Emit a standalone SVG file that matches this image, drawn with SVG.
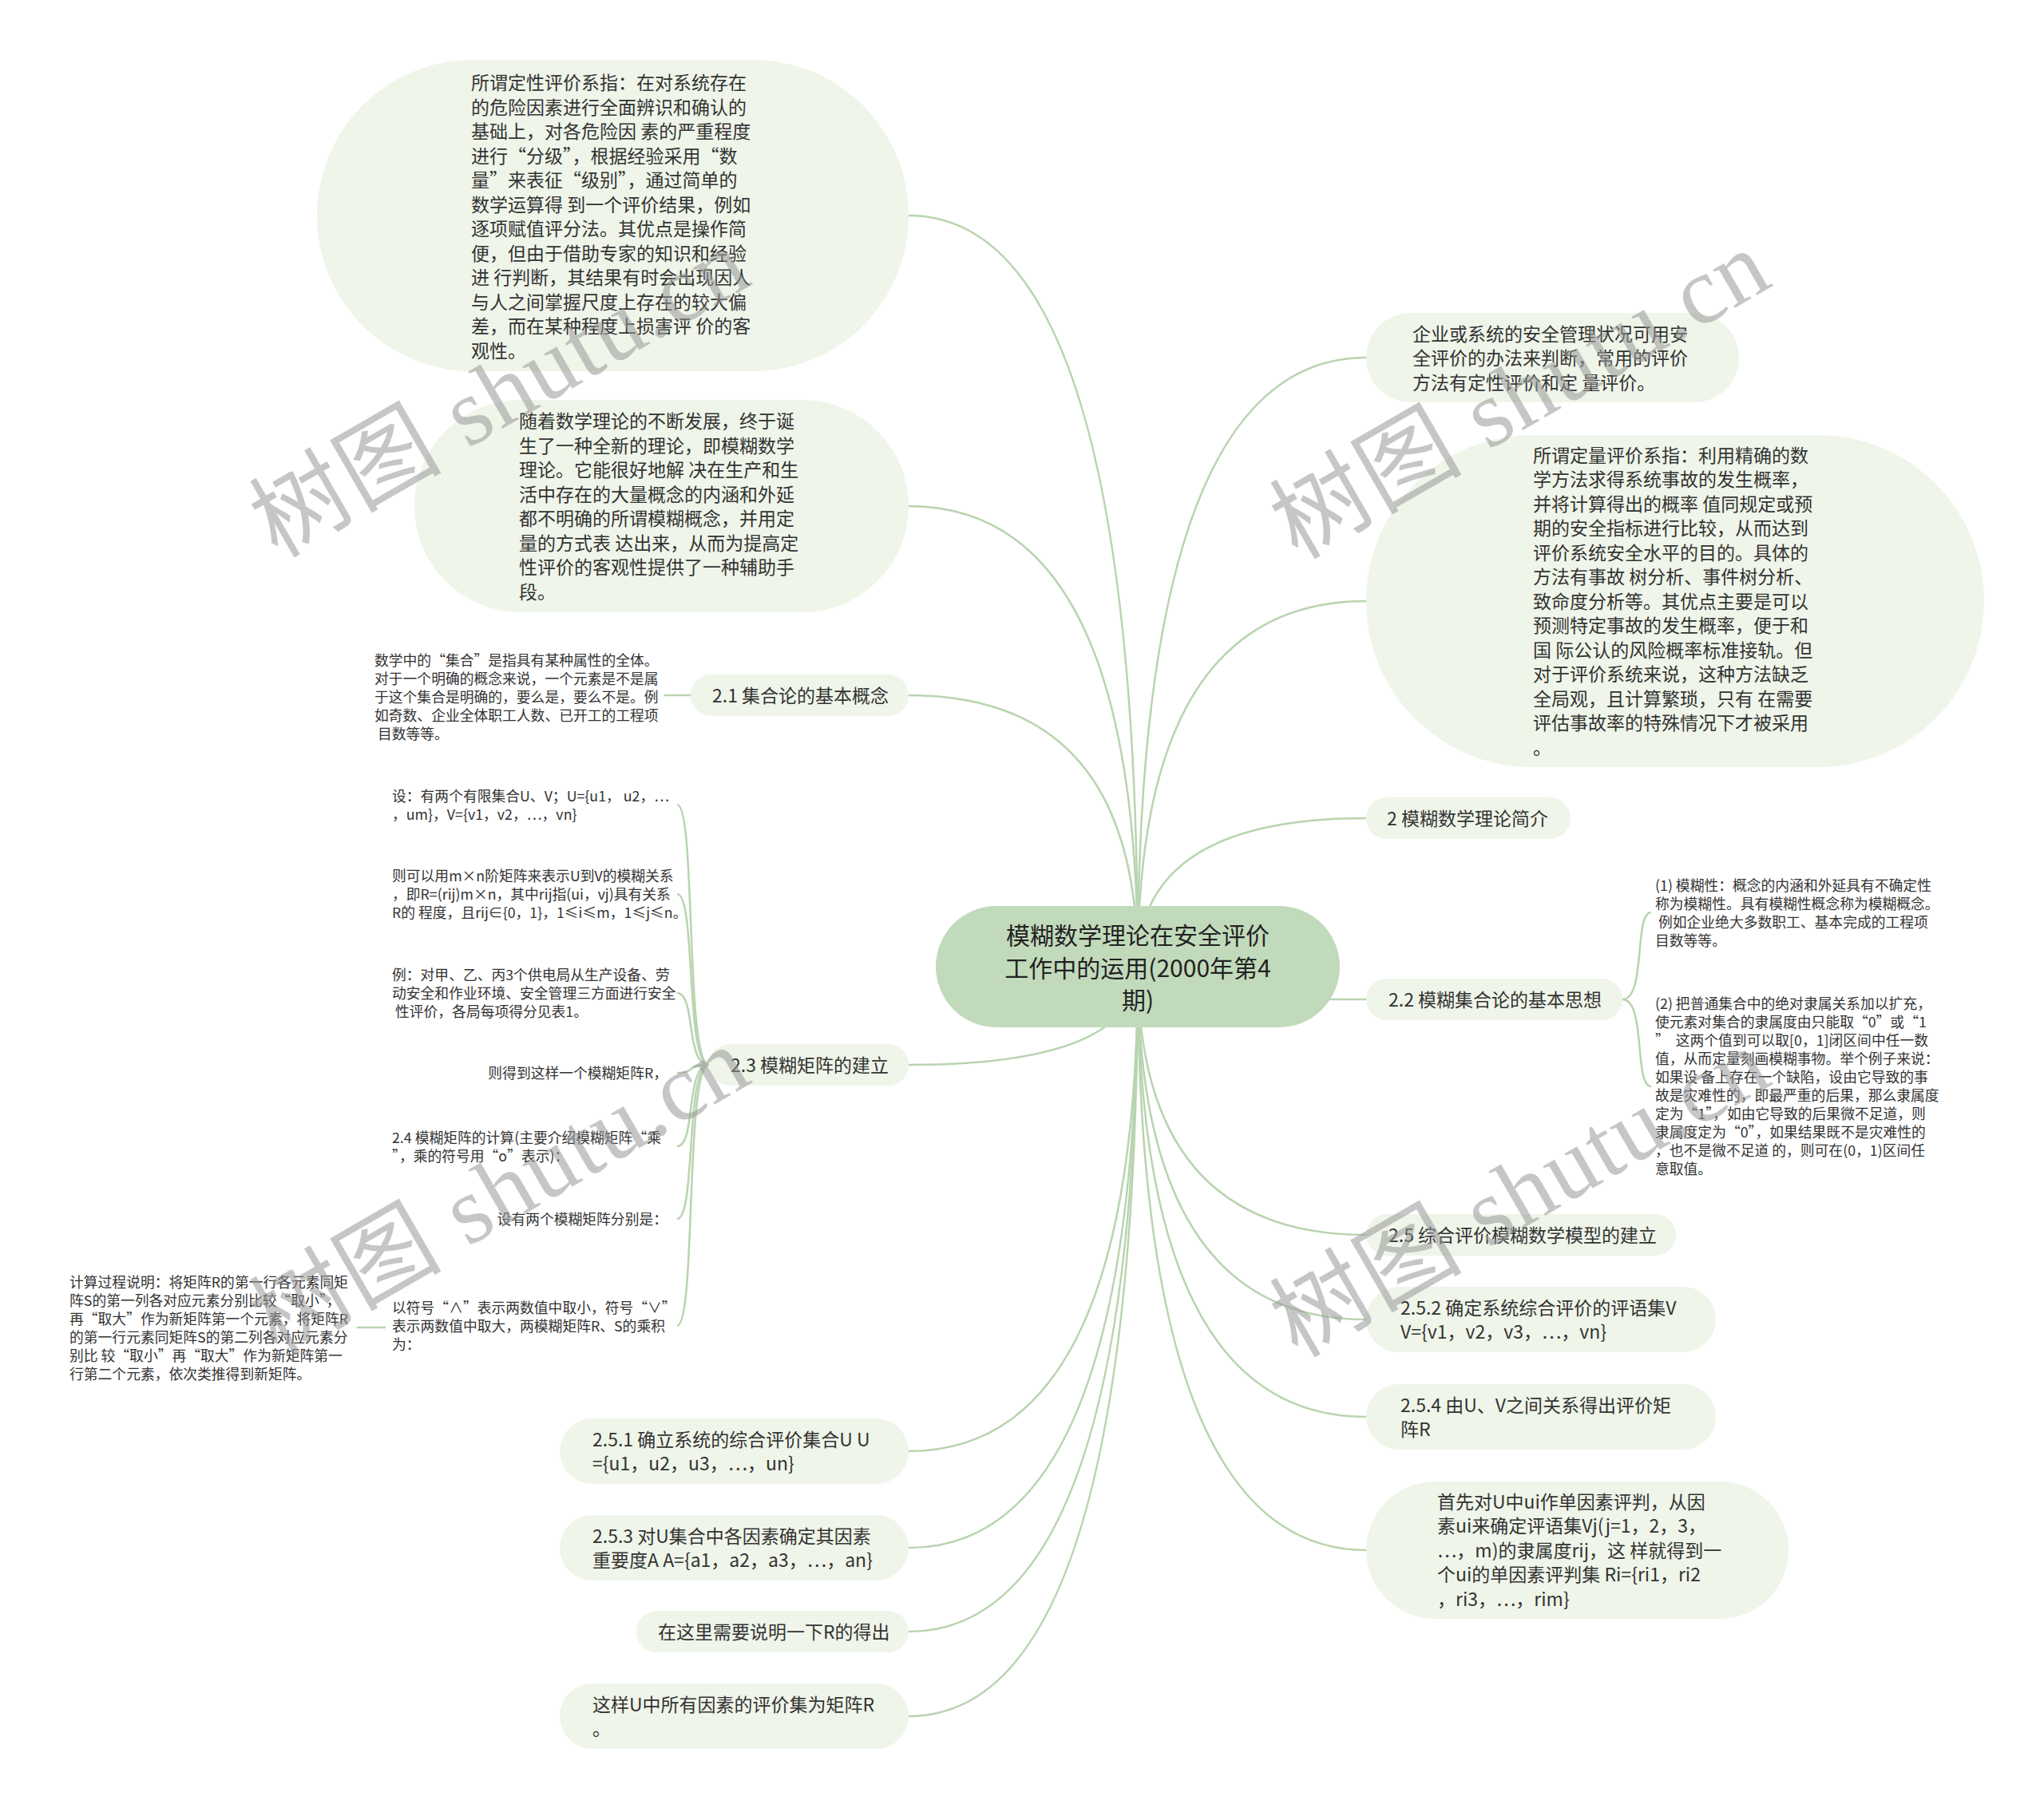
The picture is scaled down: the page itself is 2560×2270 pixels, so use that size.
<svg xmlns="http://www.w3.org/2000/svg" width="2560" height="2270" viewBox="0 0 2560 2270">
<style>
.bg{fill:#ffffff}
.nd{fill:#eff5e9}
.rt{fill:#c1dabb}
.t{font-family:"Noto Sans CJK SC","Noto Sans",sans-serif;font-size:23px;fill:#333333}
.s{font-family:"Noto Sans CJK SC","Noto Sans",sans-serif;font-size:17.8px;fill:#333333}
.r{font-family:"Noto Sans CJK SC","Noto Sans",sans-serif;font-size:30px;fill:#222222;text-anchor:middle}
.e{text-anchor:end}
.conn path{fill:none;stroke:#b8d4b0;stroke-width:2.5}
.wm{font-family:"Liberation Serif","Noto Sans CJK SC",serif;font-size:120px;fill:#999999;opacity:0.55}
</style>
<rect class="bg" x="0" y="0" width="2560" height="2270"/>
<g id="connectors" class="conn">
<path d="M1425,1211 Q1425,270 1138,270"/>
<path d="M1425,1211 Q1425,634 1138,634"/>
<path d="M1425,1211 Q1425,871 1138,871"/>
<path d="M1425,1211 Q1425,1334 1138,1334"/>
<path d="M1425,1211 Q1425,1818 1138,1818"/>
<path d="M1425,1211 Q1425,1939 1138,1939"/>
<path d="M1425,1211 Q1425,2044 1138,2044"/>
<path d="M1425,1211 Q1425,2150 1138,2150"/>
<path d="M1425,1211 Q1425,448 1711,448"/>
<path d="M1425,1211 Q1425,753 1711,753"/>
<path d="M1425,1211 Q1425,1025 1711,1025"/>
<path d="M1425,1211 Q1425,1252 1711,1252"/>
<path d="M1425,1211 Q1425,1547 1711,1547"/>
<path d="M1425,1211 Q1425,1653 1711,1653"/>
<path d="M1425,1211 Q1425,1775 1711,1775"/>
<path d="M1425,1211 Q1425,1942 1711,1942"/>
<path d="M865,871 L832,871"/>
<path d="M888,1334 C858,1334 872,1008 848,1008"/>
<path d="M888,1334 C858,1334 872,1120 848,1120"/>
<path d="M888,1334 C858,1334 872,1244 848,1244"/>
<path d="M888,1334 C858,1334 872,1344 848,1344"/>
<path d="M888,1334 C858,1334 872,1436 848,1436"/>
<path d="M888,1334 C858,1334 872,1527 848,1527"/>
<path d="M888,1334 C858,1334 872,1661 848,1661"/>
<path d="M483,1663 L447,1663"/>
<path d="M2032,1252 C2062,1252 2046,1143 2068,1143"/>
<path d="M2032,1252 C2062,1252 2046,1361 2068,1361"/>
</g>
<g id="root">
<rect class="rt" x="1172" y="1135" width="506" height="152" rx="76"/>
<text class="r" x="1425" y="1183"><tspan x="1425">模糊数学理论在安全评价</tspan><tspan x="1425" dy="40.5">工作中的运用(2000年第4</tspan><tspan x="1425" dy="40.5">期)</tspan></text>
</g>
<g id="n-dingxing">
<rect class="nd" x="397" y="75" width="741" height="390" rx="195"/>
<text class="t" x="590" y="112"><tspan x="590">所谓定性评价系指：在对系统存在</tspan><tspan x="590" dy="30.5">的危险因素进行全面辨识和确认的</tspan><tspan x="590" dy="30.5">基础上，对各危险因 素的严重程度</tspan><tspan x="590" dy="30.5">进行“分级”，根据经验采用“数</tspan><tspan x="590" dy="30.5">量”来表征“级别”，通过简单的</tspan><tspan x="590" dy="30.5">数学运算得 到一个评价结果，例如</tspan><tspan x="590" dy="30.5">逐项赋值评分法。其优点是操作简</tspan><tspan x="590" dy="30.5">便，但由于借助专家的知识和经验</tspan><tspan x="590" dy="30.5">进 行判断，其结果有时会出现因人</tspan><tspan x="590" dy="30.5">与人之间掌握尺度上存在的较大偏</tspan><tspan x="590" dy="30.5">差，而在某种程度上损害评 价的客</tspan><tspan x="590" dy="30.5">观性。</tspan></text>
</g>
<g id="n-suizhe">
<rect class="nd" x="519" y="501" width="619" height="266" rx="133"/>
<text class="t" x="650" y="536"><tspan x="650">随着数学理论的不断发展，终于诞</tspan><tspan x="650" dy="30.5">生了一种全新的理论，即模糊数学</tspan><tspan x="650" dy="30.5">理论。它能很好地解 决在生产和生</tspan><tspan x="650" dy="30.5">活中存在的大量概念的内涵和外延</tspan><tspan x="650" dy="30.5">都不明确的所谓模糊概念，并用定</tspan><tspan x="650" dy="30.5">量的方式表 达出来，从而为提高定</tspan><tspan x="650" dy="30.5">性评价的客观性提供了一种辅助手</tspan><tspan x="650" dy="30.5">段。</tspan></text>
</g>
<g id="n-2-1">
<rect class="nd" x="865" y="845" width="273" height="52" rx="26"/>
<text class="t" x="892" y="879.7">2.1 集合论的基本概念</text>
</g>
<g id="n-2-1-detail">
<text class="s" x="469" y="833.8" xml:space="preserve"><tspan x="469">数学中的“集合”是指具有某种属性的全体。</tspan><tspan x="469" dy="23">对于一个明确的概念来说，一个元素是不是属</tspan><tspan x="469" dy="23">于这个集合是明确的，要么是，要么不是。例</tspan><tspan x="469" dy="23">如奇数、企业全体职工人数、已开工的工程项</tspan><tspan x="469" dy="23"> 目数等等。</tspan></text>
</g>
<g id="n-2-3">
<rect class="nd" x="888" y="1308" width="250" height="52" rx="26"/>
<text class="t" x="915" y="1342.7">2.3 模糊矩阵的建立</text>
</g>
<g id="n-2-3-a">
<text class="s" x="491" y="1003.8"><tspan x="491">设：有两个有限集合U、V；U={u1， u2，…</tspan><tspan x="491" dy="23">，um}，V={v1，v2，…，vn}</tspan></text>
</g>
<g id="n-2-3-b">
<text class="s" x="491" y="1103.8"><tspan x="491">则可以用m×n阶矩阵来表示U到V的模糊关系</tspan><tspan x="491" dy="23">，即R=(rij)m×n，其中rij指(ui，vj)具有关系</tspan><tspan x="491" dy="23">R的 程度，且rij∈{0，1}，1≤i≤m，1≤j≤n。</tspan></text>
</g>
<g id="n-2-3-c">
<text class="s" x="491" y="1227.8" xml:space="preserve"><tspan x="491">例：对甲、乙、丙3个供电局从生产设备、劳</tspan><tspan x="491" dy="23">动安全和作业环境、安全管理三方面进行安全</tspan><tspan x="491" dy="23"> 性评价，各局每项得分见表1。</tspan></text>
</g>
<g id="n-2-3-d">
<text class="s e" x="836" y="1350.8">则得到这样一个模糊矩阵R，</text>
</g>
<g id="n-2-3-e">
<text class="s" x="491" y="1431.8"><tspan x="491">2.4 模糊矩阵的计算(主要介绍模糊矩阵“乘</tspan><tspan x="491" dy="23">”，乘的符号用“o”表示)：</tspan></text>
</g>
<g id="n-2-3-f">
<text class="s e" x="836" y="1533.8">设有两个模糊矩阵分别是：</text>
</g>
<g id="n-2-3-g">
<text class="s" x="491" y="1644.8"><tspan x="491">以符号“∧”表示两数值中取小，符号“∨”</tspan><tspan x="491" dy="23">表示两数值中取大，两模糊矩阵R、S的乘积</tspan><tspan x="491" dy="23">为：</tspan></text>
</g>
<g id="n-calc">
<text class="s" x="87" y="1612.8"><tspan x="87">计算过程说明：将矩阵R的第一行各元素同矩</tspan><tspan x="87" dy="23">阵S的第一列各对应元素分别比较“取小”，</tspan><tspan x="87" dy="23">再“取大”作为新矩阵第一个元素，将矩阵R</tspan><tspan x="87" dy="23">的第一行元素同矩阵S的第二列各对应元素分</tspan><tspan x="87" dy="23">别比 较“取小”再“取大”作为新矩阵第一</tspan><tspan x="87" dy="23">行第二个元素，依次类推得到新矩阵。</tspan></text>
</g>
<g id="n-2-5-1">
<rect class="nd" x="701" y="1777" width="437" height="82" rx="41"/>
<text class="t" x="742" y="1811.7"><tspan x="742">2.5.1 确立系统的综合评价集合U U</tspan><tspan x="742" dy="30">={u1，u2，u3，…，un}</tspan></text>
</g>
<g id="n-2-5-3">
<rect class="nd" x="701" y="1898" width="437" height="82" rx="41"/>
<text class="t" x="742" y="1932.7"><tspan x="742">2.5.3 对U集合中各因素确定其因素</tspan><tspan x="742" dy="30">重要度A A={a1，a2，a3，…，an}</tspan></text>
</g>
<g id="n-zaizheli">
<rect class="nd" x="797" y="2018" width="341" height="52" rx="26"/>
<text class="t" x="824" y="2052.7">在这里需要说明一下R的得出</text>
</g>
<g id="n-zheyang">
<rect class="nd" x="701" y="2109" width="437" height="82" rx="41"/>
<text class="t" x="742" y="2143.7"><tspan x="742">这样U中所有因素的评价集为矩阵R</tspan><tspan x="742" dy="30.5">。</tspan></text>
</g>
<g id="n-qiye">
<rect class="nd" x="1711" y="392" width="467" height="112" rx="56"/>
<text class="t" x="1769" y="426.7"><tspan x="1769">企业或系统的安全管理状况可用安</tspan><tspan x="1769" dy="30.5">全评价的办法来判断，常用的评价</tspan><tspan x="1769" dy="30.5">方法有定性评价和定 量评价。</tspan></text>
</g>
<g id="n-dingliang">
<rect class="nd" x="1711" y="545" width="774" height="416" rx="208"/>
<text class="t" x="1920" y="578.7"><tspan x="1920">所谓定量评价系指：利用精确的数</tspan><tspan x="1920" dy="30.5">学方法求得系统事故的发生概率，</tspan><tspan x="1920" dy="30.5">并将计算得出的概率 值同规定或预</tspan><tspan x="1920" dy="30.5">期的安全指标进行比较，从而达到</tspan><tspan x="1920" dy="30.5">评价系统安全水平的目的。具体的</tspan><tspan x="1920" dy="30.5">方法有事故 树分析、事件树分析、</tspan><tspan x="1920" dy="30.5">致命度分析等。其优点主要是可以</tspan><tspan x="1920" dy="30.5">预测特定事故的发生概率，便于和</tspan><tspan x="1920" dy="30.5">国 际公认的风险概率标准接轨。但</tspan><tspan x="1920" dy="30.5">对于评价系统来说，这种方法缺乏</tspan><tspan x="1920" dy="30.5">全局观，且计算繁琐，只有 在需要</tspan><tspan x="1920" dy="30.5">评估事故率的特殊情况下才被采用</tspan><tspan x="1920" dy="30.5">。</tspan></text>
</g>
<g id="n-2">
<rect class="nd" x="1711" y="999" width="256" height="52" rx="26"/>
<text class="t" x="1737" y="1033.7">2 模糊数学理论简介</text>
</g>
<g id="n-2-2">
<rect class="nd" x="1711" y="1226" width="321" height="52" rx="26"/>
<text class="t" x="1739" y="1260.7">2.2 模糊集合论的基本思想</text>
</g>
<g id="n-2-2-1">
<text class="s" x="2073" y="1115.8" xml:space="preserve"><tspan x="2073">(1) 模糊性：概念的内涵和外延具有不确定性</tspan><tspan x="2073" dy="23">称为模糊性。具有模糊性概念称为模糊概念。</tspan><tspan x="2073" dy="23"> 例如企业绝大多数职工、基本完成的工程项</tspan><tspan x="2073" dy="23">目数等等。</tspan></text>
</g>
<g id="n-2-2-2">
<text class="s" x="2073" y="1263.8" xml:space="preserve"><tspan x="2073">(2) 把普通集合中的绝对隶属关系加以扩充，</tspan><tspan x="2073" dy="23">使元素对集合的隶属度由只能取“0”或“1</tspan><tspan x="2073" dy="23">”  这两个值到可以取[0，1]闭区间中任一数</tspan><tspan x="2073" dy="23">值，从而定量刻画模糊事物。举个例子来说：</tspan><tspan x="2073" dy="23">如果设 备上存在一个缺陷，设由它导致的事</tspan><tspan x="2073" dy="23">故是灾难性的，即最严重的后果，那么隶属度</tspan><tspan x="2073" dy="23">定为“1”，如由它导致的后果微不足道，则</tspan><tspan x="2073" dy="23">隶属度定为“0”，如果结果既不是灾难性的</tspan><tspan x="2073" dy="23">，也不是微不足道 的，则可在(0，1)区间任</tspan><tspan x="2073" dy="23">意取值。</tspan></text>
</g>
<g id="n-2-5">
<rect class="nd" x="1711" y="1521" width="388" height="52" rx="26"/>
<text class="t" x="1739" y="1555.7">2.5 综合评价模糊数学模型的建立</text>
</g>
<g id="n-2-5-2">
<rect class="nd" x="1711" y="1612" width="438" height="82" rx="41"/>
<text class="t" x="1754" y="1646.7"><tspan x="1754">2.5.2 确定系统综合评价的评语集V</tspan><tspan x="1754" dy="30">V={v1，v2，v3，…，vn}</tspan></text>
</g>
<g id="n-2-5-4">
<rect class="nd" x="1711" y="1734" width="438" height="82" rx="41"/>
<text class="t" x="1754" y="1768.7"><tspan x="1754">2.5.4 由U、V之间关系得出评价矩</tspan><tspan x="1754" dy="30">阵R</tspan></text>
</g>
<g id="n-shouxian">
<rect class="nd" x="1711" y="1856" width="529" height="172" rx="86"/>
<text class="t" x="1800" y="1889.7"><tspan x="1800">首先对U中ui作单因素评判，从因</tspan><tspan x="1800" dy="30.5">素ui来确定评语集Vj(j=1，2，3，</tspan><tspan x="1800" dy="30.5">…，m)的隶属度rij，这 样就得到一</tspan><tspan x="1800" dy="30.5">个ui的单因素评判集 Ri={ri1，ri2</tspan><tspan x="1800" dy="30.5">，ri3，…，rim}</tspan></text>
</g>
<g id="watermarks">
<text class="wm" transform="translate(347,700) rotate(-30)" textLength="690" lengthAdjust="spacing">树图 shutu.cn</text>
<text class="wm" transform="translate(1625,702) rotate(-30)" textLength="690" lengthAdjust="spacing">树图 shutu.cn</text>
<text class="wm" transform="translate(347,1700) rotate(-30)" textLength="690" lengthAdjust="spacing">树图 shutu.cn</text>
<text class="wm" transform="translate(1625,1702) rotate(-30)" textLength="690" lengthAdjust="spacing">树图 shutu.cn</text>
</g>
</svg>
